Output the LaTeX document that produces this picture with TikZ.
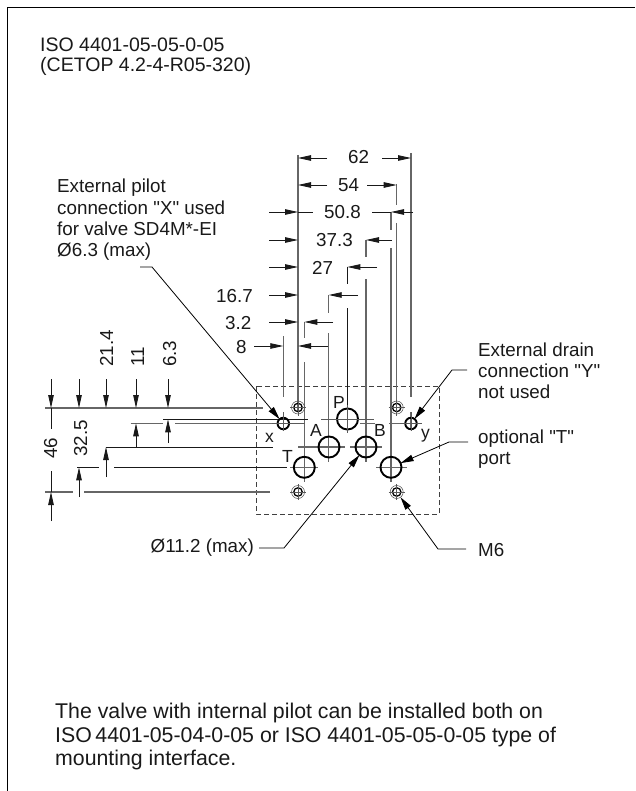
\documentclass[tikz,border=0pt]{standalone}
\usepackage{fontspec}
\newfontfamily\plainfont{Liberation Sans}
\usetikzlibrary{arrows.meta}
\tikzset{
  x=1pt,y=-1pt,
  lbl/.style={anchor=base west,inner sep=0pt,font=\plainfont\fontsize{18.8}{21}\selectfont,text=black!90},
  lble/.style={lbl,anchor=base east},
  lblr/.style={lbl,rotate=90},
  toplbl/.style={lbl,font=\plainfont\fontsize{19.5}{21}\selectfont},
  botlbl/.style={lbl,font=\plainfont\fontsize{21.3}{24}\selectfont},
  portlbl/.style={lbl,font=\plainfont\fontsize{17.5}{20}\selectfont},
  ext/.style={draw=black!60,line width=1.1pt},
  dimline/.style={draw=black!90,line width=0.85pt},
  tip/.style={dimline,-{Triangle[length=13pt,width=5.5pt]}},
  leader/.style={draw=black,line width=0.8pt,-{Triangle[length=13pt,width=6.5pt]}},
  port/.style={circle,draw=black,line width=1.9pt,minimum size=#1,inner sep=0pt,outer sep=0pt},
  cross/.style={draw=black!65,line width=0.9pt}
}
\newcommand{\screwhole}[3]{%
  \node[circle,draw=black!70,line width=0.5pt,minimum size=13pt,inner sep=0pt,outer sep=0pt] (#1) at (#2,#3) {};
  \node[circle,draw=black,line width=1.3pt,minimum size=8.5pt,inner sep=0pt] at (#2,#3) {};
  \draw[cross] (#2-8,#3) -- (#2+8,#3) (#2,#3-8) -- (#2,#3+8);}
\begin{document}
\begin{tikzpicture}
\useasboundingbox (0,0) rectangle (635,791);
% frame
\draw[line width=1pt] (7.5,791) -- (7.5,7.5) -- (635,7.5);
% mounting outline
\draw[dash pattern=on 5pt off 3pt,draw=black!75,line width=0.9pt] (256,386) rectangle (439,514);
% vertical extension lines
\draw[ext] (298,155) -- (298,412);
\draw[ext] (411,153) -- (411,397) (411,412) -- (411,430);
\draw[ext] (396.7,184) -- (396.7,205) (396.7,223) -- (396.7,412);
\draw[ext] (391,212) -- (391,230) (391,248) -- (391,482);
\draw[ext] (366,240) -- (366,257) (366,279) -- (366,462);
\draw[dimline] (347.3,267) -- (347.3,284) (347.3,308) -- (347.3,433);
\draw[ext] (328.7,295) -- (328.7,313) (328.7,333) -- (328.7,462);
\draw[ext] (304.3,322) -- (304.3,338) (304.3,362) -- (304.3,482);
\draw[ext] (283.3,336) -- (283.3,397) (283.3,412) -- (283.3,430);
% horizontal extension lines
\draw[ext] (45,408) -- (263,408);
\draw[dimline] (163,419.3) -- (308,419.3) (321,419.3) -- (370,419.3);
\draw[ext] (130.7,423.3) -- (163,423.3) (175,423.3) -- (305,423.3);
\draw[dimline] (106,447) -- (273,447);
\draw[ext] (298,447) -- (345,447) (350,447) -- (382,447);
\draw[dimline] (77,467.3) -- (99,467.3) (114,467.3) -- (287,467.3);
\draw[ext] (290,467.3) -- (318,467.3) (376,467.3) -- (407,467.3);
\draw[ext] (45,492) -- (73,492);
\draw[ext] (84,492) -- (270,492);
\draw[ext] (360,423.3) -- (375,423.3) (389,423.3) -- (422,423.3);
% horizontal dimensions
\draw[tip] (327,158) -- (298,158);
\draw[tip] (382,158) -- (411,158);
\draw[tip] (327,185) -- (298,185);
\draw[tip] (367,185) -- (396.7,185);
\draw[tip] (269,212) -- (298,212);
\draw[dimline] (298,212) -- (313,212);
\draw[dimline] (372,212) -- (391,212);
\draw[tip] (413,212) -- (391,212);
\draw[tip] (269,240) -- (298,240);
\draw[tip] (392,240) -- (366,240);
\draw[tip] (269,267) -- (298,267);
\draw[tip] (377,267) -- (347.3,267);
\draw[tip] (269,295) -- (298,295);
\draw[tip] (358,295) -- (328.7,295);
\draw[tip] (269,322) -- (298,322);
\draw[tip] (333,322) -- (304.3,322);
\draw[tip] (254,346) -- (283.3,346);
\draw[tip] (328,346) -- (298,346);
% vertical dimensions
\foreach \xa in {51,79,106,136,168} \draw[tip] (\xa,379) -- (\xa,408);
\draw[dimline] (51,408) -- (51,429);
\draw[tip] (51,521) -- (51,492);
\draw[dimline] (51,492) -- (51,471);
\draw[tip] (79,497) -- (79,467.3);
\draw[tip] (106,477) -- (106,447);
\draw[tip] (136,447) -- (136,423.3);
\draw[tip] (168,443) -- (168,419.3);
% screw holes
\screwhole{h1}{298}{407.5}
\screwhole{h2}{298}{492}
\screwhole{h3}{396.7}{407.5}
\screwhole{h4}{396.7}{492}
% ports
\node[port=21pt] (P) at (347.5,419) {};
\node[port=21pt] (A) at (329,447) {};
\node[port=21pt] (B) at (366,447) {};
\node[port=21pt] (T) at (304.3,467.3) {};
\node[port=21pt] (T2) at (391,467.3) {};
\node[port=11.5pt] (X) at (283.3,423.5) {};
\node[port=11.5pt] (Y) at (411,423.5) {};
\draw[cross] (321,419) -- (374,419) (347.5,405) -- (347.5,433);
\draw[cross] (272,423.5) -- (305,423.5) (283.3,412) -- (283.3,431);
\draw[cross] (400,423.5) -- (422,423.5) (411,412) -- (411,431);
% leaders
\coordinate (xa) at (140,267); \coordinate (xb) at (152,267);
\coordinate (ya) at (467,370); \coordinate (yb) at (452,370);
\coordinate (ta) at (468,442); \coordinate (tb) at (449,442);
\coordinate (ma) at (466,549); \coordinate (mb) at (438,549);
\coordinate (da) at (259,548); \coordinate (db) at (284,548);
\draw[leader] (xa) -- (xb) -- (X);
\draw[leader] (ya) -- (yb) -- (Y);
\draw[leader] (ta) -- (tb) -- (T2);
\draw[leader] (ma) -- (mb) -- (h4);
\draw[leader] (da) -- (db) -- (B);
% dimension texts
\node[lbl] (d62) at (348,164) {62};
\node[lbl] (d54) at (338,192) {54};
\node[lbl] (d508) at (324,219) {50.8};
\node[lbl] (d373) at (316,247) {37.3};
\node[lbl] (d27) at (312,274) {27};
\node[lbl] (d167) at (216,302) {16.7};
\node[lbl] (d32) at (225,329) {3.2};
\node[lbl] (d8) at (236,353) {8};
\node[lblr] (d214) at (113,367) {21.4};
\node[lblr] (d11) at (144,367) {11};
\node[lblr] (d63) at (176,367) {6.3};
\node[lblr] (d46) at (57,459) {46};
\node[lblr] (d325) at (87,457) {32.5};
% port letters
\node[portlbl] (lP) at (333,408) {P};
\node[portlbl] (lA) at (310,436) {A};
\node[portlbl] (lB) at (374,436) {B};
\node[portlbl] (lT) at (282,462) {T};
\node[portlbl] (lx) at (265,442) {x};
\node[portlbl] (ly) at (421,438) {y};
% texts
\node[toplbl] (t1) at (40,52) {ISO 4401-05-05-0-05};
\node[toplbl] (t2) at (40,72) {(CETOP 4.2-4-R05-320)};
\node[lbl] (t3) at (57,193) {External pilot};
\node[lbl] (t4) at (57,214.5) {connection "X" used};
\node[lbl] (t5) at (57,236) {for valve SD4M*-EI};
\node[lbl] (t6) at (57,257) {Ø6.3 (max)};
\node[lbl] (t7) at (478,356) {External drain};
\node[lbl] (t8) at (478,377) {connection "Y"};
\node[lbl] (t9) at (478,398) {not used};
\node[lbl] (t10) at (478,443) {optional "T"};
\node[lbl] (t11) at (478,464) {port};
\node[lbl] (t12) at (478,556) {M6};
\node[lble] (t13) at (254,552) {Ø11.2 (max)};
\node[botlbl] (t14) at (55,718) {The valve with internal pilot can be installed both on};
\node[botlbl] (t15) at (55,742) {ISO\,4401-05-04-0-05 or ISO 4401-05-05-0-05 type of};
\node[botlbl] (t16) at (55,765) {mounting interface.};
\end{tikzpicture}
\end{document}
